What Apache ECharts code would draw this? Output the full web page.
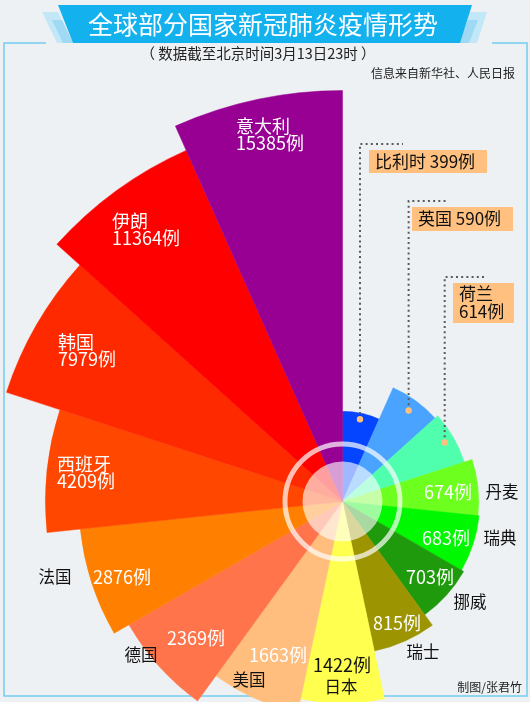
<!DOCTYPE html>
<html><head><meta charset="utf-8">
<script src="https://cdn.jsdelivr.net/npm/echarts@6/dist/echarts.min.js"></script>
<style>html,body{margin:0;padding:0;background:#eef1f3}#c{width:530px;height:702px}</style>
</head><body><div id="c"></div>
<script>
// ---- data (clockwise from 12 o'clock) ----
const countries = ['比利时','英国','荷兰','丹麦','瑞典','挪威','瑞士','日本','美国','德国','法国','西班牙','韩国','伊朗','意大利'];
const cases = [399, 590, 614, 674, 683, 703, 815, 1422, 1663, 2369, 2876, 4209, 7979, 11364, 15385];
const colors = ['#0645ff','#4aa3ff','#4fffad','#6dff1e','#00f800','#1f9a0c','#9c9400','#ffff4f','#ffbe7e','#ff744a','#ff8000','#ff4700','#ff2900','#ff0000','#970092'];
const unit = '例';
const titleText = '全球部分国家新冠肺炎疫情形势';
const subtitleText = '（ 数据截至北京时间3月13日23时 ）';
const sourceText = '信息来自新华社、人民日报';
const creditText = '制图/张君竹';

// ---- layout (positions only) ----
const CX = 342.5, CY = 501.5;
const FONT = '"Noto Sans CJK SC","Noto Sans",sans-serif';
const valueLabelPos = {
  3: [448, 492, 'center', '#fff'], 4: [446, 538, 'center', '#fff'], 5: [430, 577, 'center', '#fff'],
  6: [397, 623, 'center', '#fff'], 7: [342, 665, 'center', '#111'], 8: [278, 655, 'center', '#fff'],
  9: [196, 638, 'center', '#fff'], 10: [122, 577, 'center', '#fff'],
  11: [57, 473, 'left', '#fff'], 12: [58, 351, 'left', '#fff'], 13: [112, 230, 'left', '#fff'], 14: [236, 135, 'left', '#fff']
};
const twoLine = {11: 1, 12: 1, 13: 1, 14: 1};
const nameLabelPos = {3: [502, 492], 4: [500, 538], 5: [470, 602], 6: [423, 652], 7: [341, 687], 8: [249, 680], 9: [141, 655], 10: [55, 577]};
const callouts = {
  0: {box: [369, 150, 118, 23], top: 144, endX: 403, inset: 6},
  1: {box: [412, 207, 101, 24], top: 201, endX: 447, inset: 12},
  2: {box: [453, 283, 61, 40], top: 277, endX: 487, inset: 10}
};

const chart = echarts.init(document.getElementById('c'), null, {renderer: 'canvas'});

function renderWedge(params, api) {
  const cs = params.coordSys;
  const v = api.value(0), a = api.value(1);
  const pt = api.coord([v, a]);
  const dx = pt[0] - cs.cx, dy = pt[1] - cs.cy;
  const rad = Math.sqrt(dx * dx + dy * dy);
  const ang = Math.atan2(dy, dx);
  let band = api.size ? api.size([1, 1], [v, a])[1] : NaN;
  if (!isFinite(band) || band <= 0) band = Math.PI * 2 / countries.length;
  const col = colors[params.dataIndex];
  return {
    type: 'sector',
    shape: {cx: cs.cx, cy: cs.cy, r0: 0, r: rad, startAngle: ang - band / 2, endAngle: ang + band / 2, clockwise: true},
    style: {fill: col, stroke: col, lineWidth: 0.5}
  };
}

const option = {
  backgroundColor: '#eef1f3',
  animation: false,
  textStyle: {fontFamily: FONT},
  polar: {center: [CX, CY], radius: [0, 434]},
  angleAxis: {
    type: 'category', data: countries, startAngle: 90, clockwise: true, boundaryGap: true,
    axisLine: {show: false}, axisTick: {show: false}, axisLabel: {show: false}, splitLine: {show: false}
  },
  radiusAxis: {
    type: 'log', min: 143, max: 20000,
    axisLine: {show: false}, axisTick: {show: false}, axisLabel: {show: false}, splitLine: {show: false}
  },
  series: [{
    type: 'custom', coordinateSystem: 'polar', silent: true, z: 2,
    renderItem: renderWedge,
    encode: {radius: 0, angle: 1},
    data: cases.map((v, i) => [v, i])
  }]
};
chart.setOption(option);

// ---- graphic overlay ----
const g = [];
const frameColor = '#74cbef';
g.push({type: 'polyline', z: 0, shape: {points: [[46, 43], [4, 43], [4, 696], [527, 696], [527, 43], [492, 43]]}, style: {stroke: frameColor, lineWidth: 1.5, fill: null}});
g.push({type: 'polygon', z: 1, shape: {points: [[42, 12], [58, 12], [73, 43], [57, 43]]}, style: {fill: '#c2e7f7'}});
g.push({type: 'polygon', z: 1, shape: {points: [[52, 20], [62, 20], [73, 43], [63, 43]]}, style: {fill: '#9fd9f3'}});
g.push({type: 'polygon', z: 1, shape: {points: [[470, 12], [487, 12], [477, 43], [460, 43]]}, style: {fill: '#c2e7f7'}});
g.push({type: 'polygon', z: 1, shape: {points: [[468, 20], [478, 20], [469, 43], [459, 43]]}, style: {fill: '#9fd9f3'}});
g.push({type: 'polygon', z: 2, shape: {points: [[58, 5], [472, 5], [460, 43], [73, 43]]}, style: {fill: '#14b1ef'}});
g.push({type: 'text', z: 3, x: 263, y: 24, style: {text: titleText, fill: '#fff', font: '25px ' + FONT, align: 'center', verticalAlign: 'middle'}});
g.push({type: 'text', z: 3, x: 258, y: 53, style: {text: subtitleText, fill: '#222', font: '14.5px ' + FONT, align: 'center', verticalAlign: 'middle'}});
g.push({type: 'text', z: 3, x: 515, y: 73, style: {text: sourceText, fill: '#222', font: '12px ' + FONT, align: 'right', verticalAlign: 'middle'}});
g.push({type: 'text', z: 3, x: 522, y: 687, style: {text: creditText, fill: '#222', font: '12px ' + FONT, align: 'right', verticalAlign: 'middle'}});

g.push({type: 'circle', z: 20, shape: {cx: CX, cy: CY, r: 40}, style: {fill: 'rgba(255,255,255,0.62)'}});
g.push({type: 'circle', z: 20, shape: {cx: CX, cy: CY, r: 57.5}, style: {fill: null, stroke: 'rgba(255,255,255,0.7)', lineWidth: 5}});

Object.keys(valueLabelPos).forEach(k => {
  const i = +k, p = valueLabelPos[k];
  const txt = twoLine[i] ? countries[i] + '\n' + cases[i] + unit : cases[i] + unit;
  g.push({type: 'text', z: 30, x: p[0], y: p[1], style: {text: txt, fill: p[3], font: '18px ' + FONT, lineHeight: 17, align: p[2], verticalAlign: 'middle'}});
});
Object.keys(nameLabelPos).forEach(k => {
  const i = +k, p = nameLabelPos[k];
  g.push({type: 'text', z: 30, x: p[0], y: p[1], style: {text: countries[i], fill: '#111', font: '16.5px ' + FONT, align: 'center', verticalAlign: 'middle'}});
});

Object.keys(callouts).forEach(k => {
  const i = +k, c = callouts[k];
  const pt = chart.convertToPixel({seriesIndex: 0}, [cases[i], i]);
  const dx = pt[0] - CX, dy = pt[1] - CY, R = Math.sqrt(dx * dx + dy * dy);
  const f = (R - c.inset) / R;
  const px = CX + dx * f, py = CY + dy * f;
  g.push({type: 'polyline', z: 25, shape: {points: [[px, py], [px, c.top], [c.endX, c.top]]}, style: {stroke: '#5a5a5a', lineWidth: 2, lineDash: [2, 3.2], fill: null}});
  g.push({type: 'circle', z: 26, shape: {cx: px, cy: py, r: 3.2}, style: {fill: '#ffbf80'}});
  const b = c.box;
  g.push({type: 'rect', z: 26, shape: {x: b[0], y: b[1], width: b[2], height: b[3]}, style: {fill: '#ffc080'}});
  const txt = i === 2 ? countries[i] + '\n' + cases[i] + unit : countries[i] + ' ' + cases[i] + unit;
  g.push({type: 'text', z: 27, x: b[0] + 6, y: b[1] + b[3] / 2, style: {text: txt, fill: '#111', font: '17px ' + FONT, lineHeight: 18, align: 'left', verticalAlign: 'middle'}});
});

chart.setOption({graphic: {elements: g}});
</script>
</body></html>
